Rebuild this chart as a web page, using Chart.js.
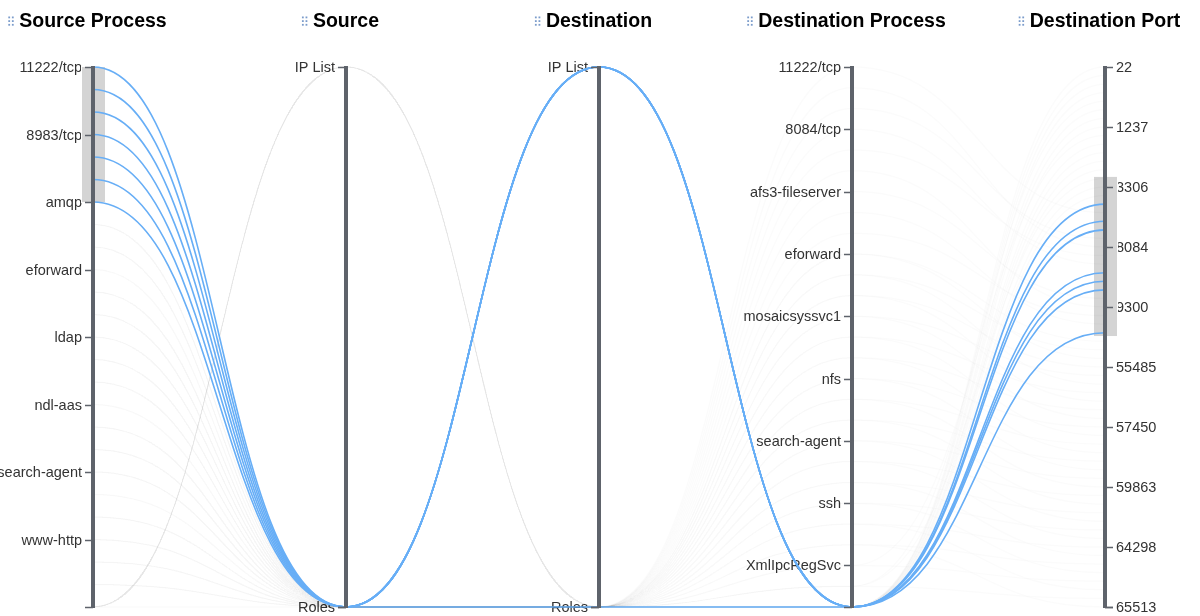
<!DOCTYPE html>
<html>
<head>
<meta charset="utf-8">
<title>Parallel coordinates</title>
<script src="https://cdn.jsdelivr.net/npm/chart.js@4.4.1/dist/chart.umd.min.js"></script>
<style>
  html, body { margin: 0; padding: 0; background: #fff; }
  #wrap { width: 1200px; height: 616px; position: relative; }
</style>
</head>
<body>
<div id="wrap"><canvas id="chart"></canvas></div>
<script>
const dimensions = ["Source Process", "Source", "Destination", "Destination Process", "Destination Port"];

// how many categories sit on each axis, and every how many of them a label is printed
const categoryCounts = [25, 2, 2, 27, 64];
const labelEvery = [3, 1, 1, 3, 7];

const sourceProcessLabels = ["11222/tcp", "8983/tcp", "amqp", "eforward", "ldap", "ndl-aas", "search-agent", "www-http"];
const sourceLabels = ["IP List", "Roles"];
const destinationLabels = ["IP List", "Roles"];
const destProcessLabels = ["11222/tcp", "8084/tcp", "afs3-fileserver", "eforward", "mosaicsyssvc1", "nfs", "search-agent", "ssh", "XmlIpcRegSvc"];
const destPortLabels = ["22", "1237", "3306", "8084", "9300", "55485", "57450", "59863", "64298", "65513"];

// one entry per record: category index on each axis
const sourceProcess = [0,1,2,3,4,5,6, 7,12,18,24,15,21,10,23,8,14, 24,11,16,22,13,20,17,9,19,12, 24,7,18,10,21,14,8,24,11,23, 16,13,22,17,20,24,7,10,13,16, 19,24,22,8,11,14,17,20,24,23, 24,9,12,15,24,18,21];
const source = [1,1,1,1,1,1,1, 1,1,1,0,1,1,1,1,1,1, 0,1,1,1,1,1,1,1,1,1, 0,1,1,1,1,1,1,0,1,1, 1,1,1,1,1,0,1,1,1,1, 1,0,1,1,1,1,1,1,0,1, 1,1,1,1,0,1,1];
const destination = [0,0,0,0,0,0,1, 1,1,1,1,1,1,1,1,1,1, 1,1,1,1,1,1,1,1,1,1, 1,1,1,1,1,1,1,1,1,1, 1,1,1,1,1,1,1,1,1,1, 1,1,1,1,1,1,1,1,1,1, 1,1,1,1,1,1,1];
const destProcess = [26,26,26,26,26,26,26, 26,26,26,26,25,26,26,26,24,26, 26,26,26,25,26,26, 0,2,1,4,3,6,5,8,7, 9,10,9,11,12,10,13,11,14,12,15,13,16,14,17,15,18,16,19,17,20,18,21,19,22,20,23,21,24,22,25,23];
const destPort = [18,31,16,25,19,26,24, 0,1,2,3,4,5,6,7,8,9,10,11,12,13,14,15, 17,20,21,22,23,27,28,29,30, 32,33,34,35,36,37,38,39,40,41,42,43,44,45,46,47,48,49,50,51,52,53,54,55,56,57,58,59,60,61,62,63];

// active brushes (in category index units)
const brushes = [
  { axis: 0, from: 0, to: 6 },
  { axis: 4, from: 12.8, to: 31.4 }
];

const axisLabels = [sourceProcessLabels, sourceLabels, destinationLabels, destProcessLabels, destPortLabels];
const axisValues = [sourceProcess, source, destination, destProcess, destPort];

function isSelected(vals){
  return brushes.every(b => vals[b.axis] >= b.from && vals[b.axis] <= b.to);
}

const datasets = sourceProcess.map((_, r) => {
  const vals = axisValues.map(v => v[r]);
  const sel = isSelected(vals);
  return {
    data: vals.map((v, a) => ({ x: a, y: v / (categoryCounts[a] - 1) })),
    borderColor: sel ? "#67aef6" : "rgba(0,0,0,0.016)",
    borderWidth: sel ? 1.6 : 1.5,
    order: sel ? 0 : 1,
    pointRadius: 0,
    pointHoverRadius: 0,
    tension: 0.4,
    fill: false,
    clip: false
  };
});

function yPos(chart, a, idx){
  return chart.scales.y.getPixelForValue(idx / (categoryCounts[a] - 1));
}

// bumpX style curves: flat tangent where a line meets every axis
const bumpCurves = {
  id: "bumpCurves",
  beforeDatasetDraw(chart, args){
    const line = args.meta.dataset;
    line.updateControlPoints(chart.chartArea, "x");
    const pts = args.meta.data;
    for(let i = 0; i < pts.length; i++){
      const p = pts[i], prev = pts[i - 1], next = pts[i + 1];
      p.cp1x = prev ? (prev.x + p.x) / 2 : p.x;
      p.cp1y = p.y;
      p.cp2x = next ? (p.x + next.x) / 2 : p.x;
      p.cp2y = p.y;
    }
  }
};

const axesPlugin = {
  id: "parcoordsAxes",
  beforeDatasetsDraw(chart){
    const ctx = chart.ctx, xs = chart.scales.x;
    ctx.save();
    // tick labels
    ctx.font = '14.5px "Liberation Sans", Arial, sans-serif';
    ctx.fillStyle = "#333";
    ctx.textBaseline = "middle";
    dimensions.forEach((d, a) => {
      const x = xs.getPixelForValue(a);
      const last = a === dimensions.length - 1;
      ctx.textAlign = last ? "left" : "right";
      axisLabels[a].forEach((lab, k) => {
        const y = yPos(chart, a, k * labelEvery[a]);
        ctx.fillText(lab, last ? x + 11 : x - 11, y + 1);
      });
    });
    // brush selections
    brushes.forEach(b => {
      const x = xs.getPixelForValue(b.axis);
      const y0 = yPos(chart, b.axis, b.from), y1 = yPos(chart, b.axis, b.to);
      ctx.fillStyle = "#d4d4d4";
      ctx.fillRect(x - 11, y0, 23, y1 - y0);
      ctx.strokeStyle = "#fff";
      ctx.lineWidth = 1;
      ctx.strokeRect(x - 11.5, y0 - 0.5, 24, y1 - y0 + 1);
    });
    ctx.restore();
  },
  afterDatasetsDraw(chart){
    const ctx = chart.ctx, xs = chart.scales.x, area = chart.chartArea;
    ctx.save();
    dimensions.forEach((name, a) => {
      const x = xs.getPixelForValue(a);
      const last = a === dimensions.length - 1;
      ctx.strokeStyle = "#5e636b";
      ctx.lineWidth = 4;
      ctx.beginPath();
      ctx.moveTo(x, area.top - 1);
      ctx.lineTo(x, area.bottom + 1);
      ctx.stroke();

      const tickIdx = axisLabels[a].map((_, k) => k * labelEvery[a]);
      tickIdx.push(categoryCounts[a] - 1);
      ctx.lineWidth = 1.5;
      tickIdx.forEach(i => {
        const y = Math.round(yPos(chart, a, i)) + 0.5;
        ctx.beginPath();
        ctx.moveTo(x, y);
        ctx.lineTo(last ? x + 8 : x - 8, y);
        ctx.stroke();
      });

      // title with grip icon
      ctx.font = 'bold 19.5px "Liberation Sans", Arial, sans-serif';
      ctx.fillStyle = "#000";
      ctx.textAlign = "center";
      ctx.textBaseline = "middle";
      ctx.fillText(name, x, 22);
      const w = ctx.measureText(name).width;
      const gx = x - w / 2 - 11;
      ctx.fillStyle = "#7b9ccb";
      for(let r = 0; r < 3; r++){
        for(let c = 0; c < 2; c++){
          ctx.fillRect(gx + c * 3.6, 16.5 + r * 3.7, 1.8, 1.8);
        }
      }
    });
    ctx.restore();
  }
};

const chart = new Chart(document.getElementById("chart"), {
  type: "line",
  data: { datasets: datasets },
  options: {
    responsive: true,
    maintainAspectRatio: false,
    animation: false,
    events: [],
    layout: { padding: { left: 93, right: 95, top: 67, bottom: 9 } },
    plugins: { legend: { display: false }, tooltip: { enabled: false } },
    scales: {
      x: { type: "linear", min: 0, max: 4, display: false },
      y: { type: "linear", min: 0, max: 1, reverse: true, display: false }
    }
  },
  plugins: [bumpCurves, axesPlugin]
});
</script>
</body>
</html>
